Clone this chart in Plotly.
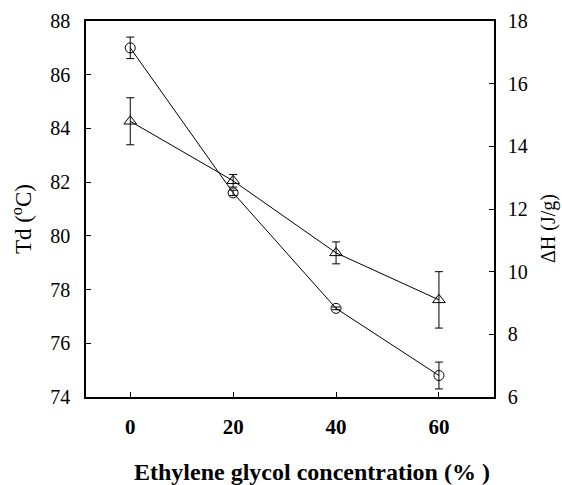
import plotly.graph_objects as go

conc = [0, 20, 40, 60]
td = [87.0, 81.6, 77.3, 74.8]
td_err = [0.4, 0.1, 0.05, 0.5]
dh = [14.8, 12.9, 10.6, 9.1]
dh_err = [0.75, 0.2, 0.35, 0.9]

x_title = "Ethylene glycol concentration (% )"
y_title = "Td (<sup>o</sup>C)"
y2_title = "ΔH (J/g)"

font_family = "Liberation Serif"

fig = go.Figure()
fig.add_trace(go.Scatter(
    x=conc, y=td, mode="lines+markers", name="Td",
    line=dict(color="black", width=1),
    marker=dict(symbol="circle-open", size=10, color="black", line=dict(width=1)),
    error_y=dict(type="data", array=td_err, color="black", thickness=1, width=4),
    yaxis="y"))
fig.add_trace(go.Scatter(
    x=conc, y=dh, mode="lines+markers", name="ΔH",
    line=dict(color="black", width=1),
    marker=dict(symbol="triangle-up-open", size=11, color="black", line=dict(width=1)),
    error_y=dict(type="data", array=dh_err, color="black", thickness=1, width=4),
    yaxis="y2"))

fig.update_layout(
    width=562, height=485,
    margin=dict(l=86, r=68, t=21, b=88, autoexpand=False),
    paper_bgcolor="white", plot_bgcolor="white",
    showlegend=False,
    font=dict(family=font_family, color="black", size=18),
    xaxis=dict(
        range=[-8.6, 70.7], tickvals=[0, 20, 40, 60],
        ticks="inside", ticklen=5, tickcolor="black",
        showline=True, linecolor="black", linewidth=1.5, mirror=True,
        showgrid=False, zeroline=False, automargin=False,
        ticklabelstandoff=10,
        tickfont=dict(size=21, weight="bold", color="black"),
    ),
    yaxis=dict(
        range=[74, 88], tickvals=[74, 76, 78, 80, 82, 84, 86, 88],
        ticks="inside", ticklen=5, tickcolor="black",
        showline=True, linecolor="black", linewidth=1.5,
        showgrid=False, zeroline=False, automargin=False,
        ticklabelstandoff=10,
        tickfont=dict(size=20, color="black"),
    ),
    yaxis2=dict(
        range=[6, 18], tickvals=[6, 8, 10, 12, 14, 16, 18],
        overlaying="y", side="right",
        ticks="inside", ticklen=5, tickcolor="black",
        showline=True, linecolor="black", linewidth=1.5,
        showgrid=False, zeroline=False, automargin=False,
        ticklabelstandoff=8,
        tickfont=dict(size=20, color="black"),
    ),
    annotations=[
        dict(text=x_title, xref="paper", yref="paper", x=0.554, y=-0.1995,
             xanchor="center", yanchor="middle", showarrow=False,
             font=dict(size=24, weight="bold", color="black")),
        dict(text=y_title, xref="paper", yref="paper", x=-0.157, y=0.473,
             xanchor="center", yanchor="middle", showarrow=False, textangle=-90,
             font=dict(size=23, color="black")),
        dict(text=y2_title, xref="paper", yref="paper", x=1.135, y=0.447,
             xanchor="center", yanchor="middle", showarrow=False, textangle=-90,
             font=dict(size=20, color="black")),
    ],
)

fig.write_html("out.html")
